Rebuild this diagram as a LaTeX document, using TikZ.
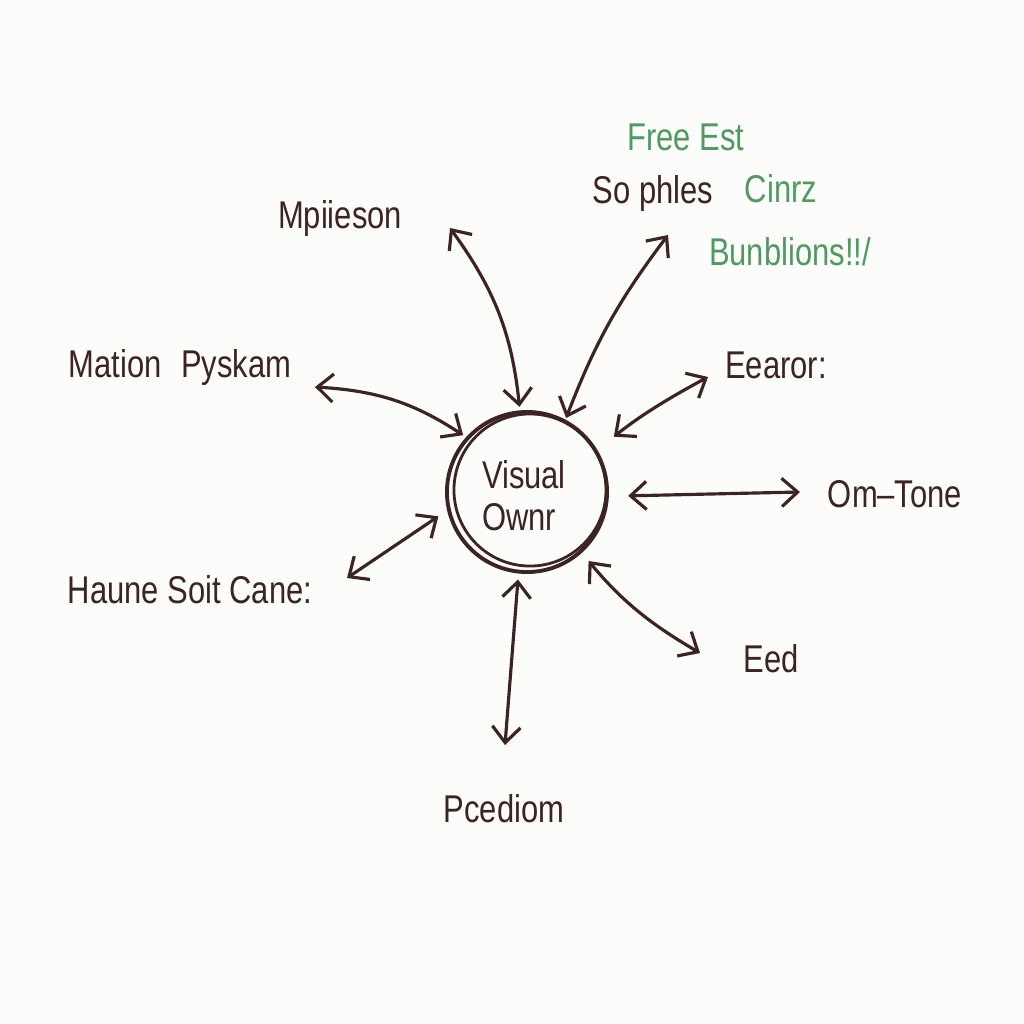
\documentclass[tikz,border=0pt]{standalone}
\usepackage{fontspec}
\setmainfont{Liberation Sans}[FakeStretch=0.8]
\usetikzlibrary{arrows.meta}
\definecolor{ink}{HTML}{3B2422}
\definecolor{pen}{HTML}{4E9A60}
\definecolor{paper}{HTML}{FCFCFA}
\tikzset{
  lbl/.style={anchor=base, text=ink, font=\fontsize{11}{13}\selectfont, inner sep=0pt},
  glbl/.style={lbl, text=pen},
  arr/.style={draw=ink, line width=0.9pt, line cap=round,
    {Straight Barb[length=4.5pt,width=8pt]}-{Straight Barb[length=4.5pt,width=8pt]}}
}
\begin{document}
\begin{tikzpicture}[x=0.01cm, y=-0.01cm]
\fill[paper] (0,0) rectangle (1024,1024);
\useasboundingbox (0,0) rectangle (1024,1024);

% Centre
\node[circle, draw=ink, line width=1.1pt, minimum size=1.6cm, inner sep=0pt] (hub) at (527,492) {};
\draw[ink, line width=0.8pt] ([shift={(3,-2)}]hub.center) circle[radius=0.76cm];
\node[lbl] (vis) at (524,488) {Visual};
\node[lbl] (own) at (519,530) {Ownr};

% Beschriftungen
\node[lbl] (mpl) at (340,228) {Mpiieson};
\node[glbl] (fre) at (686,150) {Free Est};
\node[lbl] (sop) at (653,203) {So phles};
\node[glbl] (cin) at (781,202) {Cinrz};
\node[glbl] (bun) at (790,265) {Bunblions!!/};
\node[lbl] (mat) at (180,377) {Mation\enspace Pyskam};
\node[lbl] (eea) at (776,378) {Eearor:};
\node[lbl] (omt) at (895,507) {Om--Tone};
\node[lbl] (hau) at (190,603) {Haune Soit Cane:};
\node[lbl] (eed) at (771,672) {Eed};
\node[lbl] (pce) at (504,822) {Pcediom};

% Pfeilenden
\coordinate (mplE) at (450,228);
\coordinate (sopE) at (668,235);
\coordinate (matE) at (315,387);
\coordinate (eeaE) at (708,377);
\coordinate (omtE) at (800,492);
\coordinate (eedE) at (700,653);
\coordinate (pceE) at (505,745);
\coordinate (hauE) at (347,578);

% Pfeile
\foreach \a/\e/\b/\s in {95/mplE/-15/1pt, 62/sopE/8/0.5pt, 138/matE/-15/1pt,
    31/eeaE/5/6pt, -3/omtE/0/5.5pt, -48/eedE/-10/3pt, 264/pceE/0/1.7pt, 193/hauE/0/3pt}
  \draw[arr, shorten <=\s] (hub.\a) to[bend left=\b] (\e);
\end{tikzpicture}
\end{document}
